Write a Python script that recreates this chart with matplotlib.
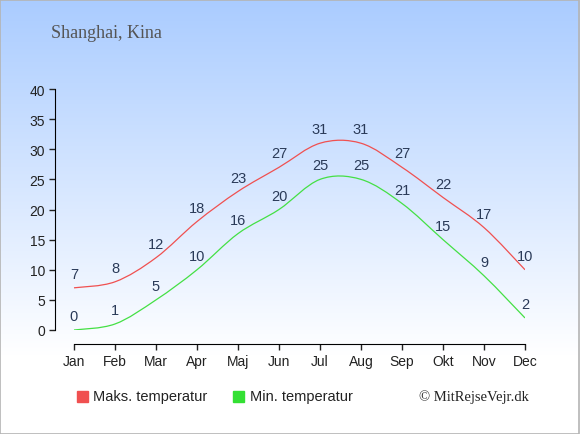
import numpy as np
import matplotlib
matplotlib.use("Agg")
import matplotlib.pyplot as plt
from matplotlib.path import Path
from matplotlib.patches import PathPatch, Rectangle
from matplotlib.colors import LinearSegmentedColormap

months = ["Jan", "Feb", "Mar", "Apr", "Maj", "Jun", "Jul", "Aug", "Sep", "Okt", "Nov", "Dec"]
max_temp = [7, 8, 12, 18, 23, 27, 31, 31, 27, 22, 17, 10]
min_temp = [0, 1, 5, 10, 16, 20, 25, 25, 21, 15, 9, 2]
title = "Shanghai, Kina"
yticks = [0, 5, 10, 15, 20, 25, 30, 35, 40]

W, H = 580, 435
fig = plt.figure(figsize=(W / 100, H / 100), dpi=100)

# gradient background
bg = fig.add_axes([0, 0, 1, 1])
grad = np.linspace(0, 1, 256).reshape(-1, 1)
cmap = LinearSegmentedColormap.from_list("bg", ["#aaccff", "#ffffff"])
bg.imshow(grad, aspect="auto", cmap=cmap, extent=[0, 1, 0.18, 1], origin="upper")
bg.add_patch(Rectangle((0, 0), 1, 0.18, color="white", lw=0))
bg.add_patch(Rectangle((0.0008, 0.001), 0.998, 0.997, fill=False, ec="#b4b4b4", lw=1.2))
bg.set_xlim(0, 1)
bg.set_ylim(0, 1)
bg.axis("off")


def px(x, y):
    return x / W, 1 - y / H


def smooth_path(xs, ys):
    # catmull-rom as cubic bezier segments
    pts = np.column_stack([xs, ys]).astype(float)
    verts = [pts[0]]
    codes = [Path.MOVETO]
    n = len(pts)
    for i in range(n - 1):
        p0 = pts[i - 1] if i > 0 else pts[i]
        p1 = pts[i]
        p2 = pts[i + 1]
        p3 = pts[i + 2] if i + 2 < n else pts[i + 1]
        c1 = p1 + (p2 - p0) / 6
        c2 = p2 - (p3 - p1) / 6
        verts += [c1, c2, p2]
        codes += [Path.CURVE4] * 3
    return Path(verts, codes)


left, right = 55, 525
top, bottom = 90, 331
ax = fig.add_axes([left / W, 1 - bottom / H, (right - left) / W, (bottom - top) / H])
ax.patch.set_alpha(0)
x = np.arange(len(months))
ax.set_xlim(-19 / 41, 11)
ax.set_ylim(0, 40)

for vals, col in [(max_temp, "#f05050"), (min_temp, "#44e044")]:
    ax.add_patch(PathPatch(smooth_path(x, vals), fill=False, ec=col, lw=0.9))
    for xi, v in zip(x, vals):
        ax.annotate(str(v), (xi, v), xytext=(0, 10), textcoords="offset points",
                    ha="center", va="center", fontsize=10.5, color="#2a3a58",
                    family="Liberation Sans")

for s in ["top", "right"]:
    ax.spines[s].set_visible(False)
ax.spines["bottom"].set_position(("outward", 10))
ax.spines["bottom"].set_bounds(0, 11)
ax.spines["left"].set_bounds(0, 40)
ax.set_xticks(x)
ax.set_xticklabels(months)
ax.set_yticks(yticks)
ax.tick_params(axis="both", labelsize=10, colors="#222222", length=4, width=1, pad=3)
for lab in ax.get_xticklabels() + ax.get_yticklabels():
    lab.set_family("Liberation Sans")

fig.text(*px(51, 33), title, fontsize=13, color="#555555", family="Liberation Serif",
         ha="left", va="center")

# legend
fig.patches.append(Rectangle(px(77, 403), 11 / W, 11 / H, color="#f05050",
                             transform=fig.transFigure, figure=fig))
fig.text(*px(93, 397), "Maks. temperatur", fontsize=10.5, color="#222222",
         family="Liberation Sans", va="center")
fig.patches.append(Rectangle(px(233, 403), 11 / W, 11 / H, color="#33e033",
                             transform=fig.transFigure, figure=fig))
fig.text(*px(250, 397), "Min. temperatur", fontsize=10.5, color="#222222",
         family="Liberation Sans", va="center")
fig.text(*px(419, 397), "\u00a9 MitRejseVejr.dk", fontsize=10.5, color="#222222",
         family="Liberation Serif", va="center")

fig.savefig("out.png", dpi=100)
